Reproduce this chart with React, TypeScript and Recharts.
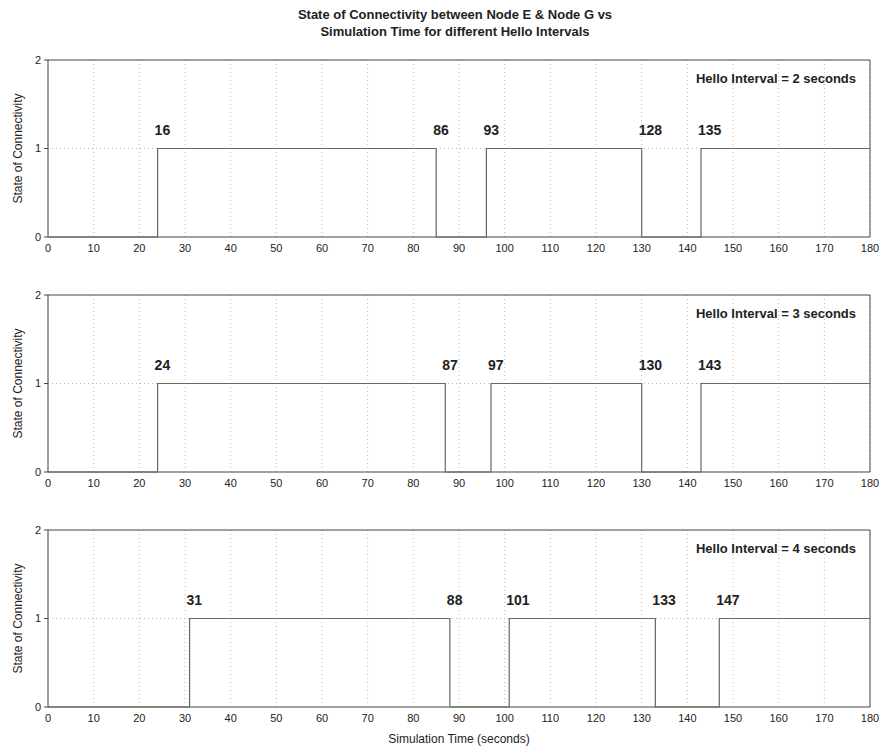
import React from "react";
import {
   LineChart,
   Line,
   XAxis,
   YAxis,
   CartesianGrid,
   ReferenceArea,
   ReferenceDot,
   Label,
} from "recharts";

// switch times (seconds); state flips at each one
const times2 = [0, 24, 85, 96, 130, 143, 180];
const state2 = [0, 1, 0, 1, 0, 1, 1];
const notes2 = ["16", "86", "93", "128", "135"];

const times3 = [0, 24, 87, 97, 130, 143, 180];
const state3 = [0, 1, 0, 1, 0, 1, 1];
const notes3 = ["24", "87", "97", "130", "143"];

const times4 = [0, 31, 88, 101, 133, 147, 180];
const state4 = [0, 1, 0, 1, 0, 1, 1];
const notes4 = ["31", "88", "101", "133", "147"];

const xTicks = [0, 10, 20, 30, 40, 50, 60, 70, 80, 90, 100, 110, 120, 130, 140, 150, 160, 170, 180];
const yTicks = [0, 1, 2];

const font = "'Liberation Sans', Arial, sans-serif";
const lineColor = "#5f6f55";

const annoLabel = function (text: string) {
   return function (props: any) {
      const vb = props.viewBox || {};
      return (
         <text
            x={vb.x - 3}
            y={vb.y - 14}
            textAnchor="start"
            fontFamily={font}
            fontWeight="bold"
            fontSize={14}
            fill="#222"
         >
            {text}
         </text>
      );
   };
};

const Panel: React.FC<{
   times: number[];
   states: number[];
   notes: string[];
   interval: number;
   top: number;
   last?: boolean;
}> = function ({ times, states, notes, interval, top, last }) {
   const data = times.map(function (t, i) {
      return { t: t, v: states[i] };
   });
   // the rising/falling edges get the annotations
   const edges = times.slice(1, 1 + notes.length);
   return (
      <div style={{ position: "absolute", left: 0, top: top }}>
         <LineChart
            width={884}
            height={230}
            data={data}
            margin={{ top: 10, right: 14, left: 8, bottom: 18 }}
         >
            <CartesianGrid
               stroke="#b8b8b8"
               strokeDasharray="1 3"
               verticalValues={xTicks}
               horizontalValues={[1]}
            />
            <XAxis
               dataKey="t"
               type="number"
               domain={[0, 180]}
               ticks={xTicks}
               interval={0}
               height={25}
               tickSize={4}
               tickMargin={3}
               axisLine={false}
               tickLine={false}
               tick={{ fontFamily: font, fontSize: 11, fill: "#222" }}
            >
               {last ? (
                  <Label
                     value="Simulation Time (seconds)"
                     position="bottom"
                     offset={2}
                     style={{ fontFamily: font, fontSize: 12, fill: "#222" }}
                  />
               ) : null}
            </XAxis>
            {/* inward tick marks, top and bottom of the box */}
            <XAxis
               xAxisId="inBottom"
               dataKey="t"
               type="number"
               domain={[0, 180]}
               ticks={xTicks}
               interval={0}
               mirror
               tickSize={4}
               axisLine={false}
               tickLine={{ stroke: "#444" }}
               tick={false}
            />
            <XAxis
               xAxisId="inTop"
               orientation="top"
               dataKey="t"
               type="number"
               domain={[0, 180]}
               ticks={xTicks}
               interval={0}
               mirror
               tickSize={4}
               axisLine={false}
               tickLine={{ stroke: "#444" }}
               tick={false}
            />
            <YAxis
               type="number"
               domain={[0, 2]}
               ticks={yTicks}
               width={40}
               tickSize={4}
               tickMargin={3}
               axisLine={false}
               tickLine={{ stroke: "#444" }}
               tick={{ fontFamily: font, fontSize: 11, fill: "#222" }}
            >
               <Label
                  value="State of Connectivity"
                  angle={-90}
                  position="insideLeft"
                  offset={10}
                  style={{
                     fontFamily: font,
                     fontSize: 12,
                     fill: "#222",
                     textAnchor: "middle",
                  }}
               />
            </YAxis>
            <ReferenceArea
               x1={0}
               x2={180}
               y1={0}
               y2={2}
               fill="none"
               stroke="#444"
               strokeWidth={1}
            >
               <Label
                  value={"Hello Interval = " + interval + " seconds"}
                  position="insideTopRight"
                  offset={14}
                  style={{
                     fontFamily: font,
                     fontSize: 13,
                     fontWeight: "bold",
                     fill: "#222",
                  }}
               />
            </ReferenceArea>
            <Line
               dataKey="v"
               type="stepAfter"
               stroke={lineColor}
               strokeWidth={1.2}
               dot={false}
               isAnimationActive={false}
            />
            {edges.map(function (t, i) {
               return (
                  <ReferenceDot
                     key={i}
                     x={t}
                     y={1}
                     r={0}
                     fill="none"
                     stroke="none"
                     label={{ content: annoLabel(notes[i]) }}
                  />
               );
            })}
         </LineChart>
      </div>
   );
};

export default function App() {
   return (
      <div
         style={{
            position: "absolute",
            left: 0,
            top: 0,
            width: 884,
            height: 751,
            background: "#fff",
         }}
      >
         <div
            style={{
               position: "absolute",
               left: 0,
               width: 910,
               top: 6,
               textAlign: "center",
               fontFamily: font,
               fontWeight: "bold",
               fontSize: 13,
               lineHeight: "17px",
               color: "#222",
            }}
         >
            State of Connectivity between Node E &amp; Node G vs
            <br />
            Simulation Time for different Hello Intervals
         </div>
         <Panel times={times2} states={state2} notes={notes2} interval={2} top={50} />
         <Panel times={times3} states={state3} notes={notes3} interval={3} top={285} />
         <Panel times={times4} states={state4} notes={notes4} interval={4} top={520} last />
      </div>
   );
}
